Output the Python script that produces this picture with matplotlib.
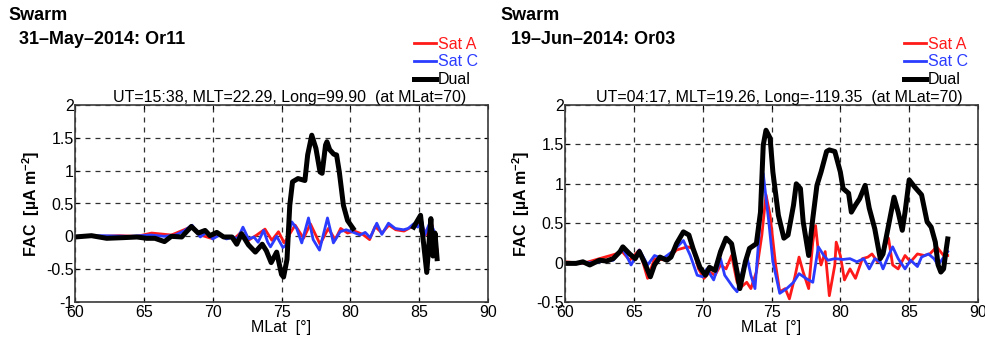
import matplotlib
matplotlib.use('Agg')
import matplotlib.pyplot as plt
import numpy as np

plt.rcParams['font.family'] = ['Liberation Sans', 'DejaVu Sans']
plt.rcParams['mathtext.fontset'] = 'custom'
plt.rcParams['mathtext.default'] = 'regular'
plt.rcParams['axes.unicode_minus'] = False

# ---- data ----
# 31-May-2014, Or11
mlat_a1 = [60, 62, 63.2, 64.5, 65.57, 67.0, 68.5, 69.1, 69.9, 70.4, 70.8, 71.6, 72.0, 72.6, 73.2,
           73.8, 74.3, 74.78, 75.2, 75.99, 76.6, 77.1, 77.8, 78.4, 78.9, 79.3, 79.8, 80.3, 80.9,
           81.4, 81.8, 82.3, 82.8, 83.3, 83.9, 84.5, 84.9, 85.2, 85.6, 85.9, 86.3]
fac_a1 = [0.0, 0.0, 0.01, 0.0, 0.05, 0.02, 0.15, 0.02, -0.03, 0.02, 0.0, -0.03, 0.05, -0.06, 0.02,
          0.11, -0.06, 0.07, -0.1, 0.17, -0.03, 0.19, -0.12, 0.12, -0.05, 0.12, 0.05, 0.08, 0.03,
          -0.05, 0.15, 0.05, 0.17, 0.1, 0.08, 0.15, 0.23, 0.15, 0.02, 0.2, -0.2]

mlat_c1 = [60, 62, 64, 65.5, 66.5, 67.3, 67.9, 68.5, 69.1, 69.6, 70.0, 70.5, 71.0, 71.5, 71.8,
           72.2, 72.6, 73.0, 73.3, 73.7, 74.0, 74.2, 74.65, 75.1, 75.3, 75.75, 76.1, 76.47,
           76.96, 77.3, 77.76, 78.34, 78.77, 79.26, 79.7, 80.23, 80.7, 81.08, 81.44, 81.92,
           82.29, 82.77, 83.26, 83.86, 84.2, 84.6, 84.9, 85.2, 85.4, 85.8, 86.1, 86.3]
fac_c1 = [0.0, 0.01, 0.0, 0.02, 0.0, 0.02, 0.08, 0.17, -0.01, 0.07, -0.04, 0.02, -0.04, -0.01, -0.04,
          0.14, -0.04, -0.01, -0.09, 0.09, -0.09, -0.16, 0.0, -0.17, -0.14, 0.22, 0.12, -0.1,
          0.28, -0.05, -0.21, 0.28, -0.1, 0.07, 0.1, 0.06, 0.02, 0.06, -0.02, 0.2,
          0.03, 0.2, 0.12, 0.1, 0.12, 0.19, 0.14, 0.22, 0.02, 0.22, 0.07, -0.24]

mlat_d1 = [60, 61.2, 62.3, 63.5, 64.5, 65.2, 65.8, 66.5, 67.0, 67.75, 68.45, 68.95, 69.45, 69.8,
           70.3, 70.8, 71.4, 71.75, 72.1, 72.6, 73.1, 73.6, 73.9, 74.25, 74.65, 75.0, 75.15,
           75.4, 75.6, 75.8, 76.2, 76.7, 76.9, 77.2, 77.5, 77.8, 77.95, 78.2, 78.3, 78.5, 78.8,
           79.0, 79.2, 79.5, 79.8, 80.2, np.nan,
           84.6, 85.1, 85.55, 85.85, 86.0, 86.15, 86.3]
fac_d1 = [-0.01, 0.01, -0.03, -0.02, -0.01, -0.03, -0.03, -0.08, 0.0, -0.01, 0.15, 0.05, 0.09, 0.01,
          0.06, -0.01, -0.01, -0.12, 0.04, -0.13, -0.24, -0.12, -0.22, -0.40, -0.24, -0.58, -0.62,
          -0.35, 0.47, 0.83, 0.88, 0.85, 1.24, 1.54, 1.34, 0.98, 0.96, 1.39, 1.44, 1.32, 1.25,
          1.24, 0.98, 0.47, 0.24, 0.12, np.nan,
          0.14, 0.32, -0.55, 0.27, -0.3, 0.05, -0.34]

# 19-Jun-2014, Or03
mlat_a2 = [60, 61.3, 63.7, 64.1, 64.7, 65.4, 66.0, 66.5, 67.4, 68.1, 68.9, 69.3, 69.7, 70.1, 70.5,
           70.9, 71.3, 71.7, 72.1, 72.5, 72.8, 73.2, 73.5, 73.9, 74.3, 74.6, 74.9, 75.3, 75.6,
           76.0, 76.3, 76.7, 77.0, 77.3, 77.7, 78.0, 78.2, 78.4, 78.6, 78.9, 79.2, 79.6, 79.7,
           80.0, 80.3, 80.7, 81.1, 81.6, 82.0, 82.3, 82.7, 83.1, 83.5, 83.8, 84.2, 84.7, 85.1,
           85.6, 86.1, 86.5, 87.0, 87.5, 87.8]
fac_a2 = [0.01, -0.01, 0.11, 0.15, 0.03, 0.16, -0.20, 0.05, 0.03, 0.16, 0.20, 0.18, -0.08, -0.20, -0.12,
          -0.16, -0.03, -0.08, 0.09, -0.25, -0.31, -0.25, -0.33, -0.12, 0.35, 0.86, 0.60, -0.03, -0.37,
          -0.33, -0.46, -0.18, 0.07, -0.12, -0.33, 0.26, 0.47, 0.14, -0.03, 0.14, -0.42, -0.03, 0.26,
          0.09, -0.22, -0.08, -0.20, 0.05, 0.07, 0.11, 0.01, 0.14, 0.31, -0.03, -0.08, 0.09, 0.01,
          0.11, 0.09, 0.11, 0.20, 0.09, 0.09]

mlat_c2 = [60, 62, 63.5, 64.0, 64.2, 64.8, 65.4, 66.0, 66.5, 67.1, 67.8, 68.6, 69.1, 69.6, 70.0,
           70.3, 70.8, 71.3, 71.6, 72.2, 72.5, 72.8, 73.2, 73.5, 73.8, 74.1, 74.4, 74.8, 75.1,
           75.6, 76.1, 76.6, 77.0, 77.5, 78.0, 78.4, 78.8, 79.1, 79.6, 80.2, 80.7, 81.2, 81.7,
           82.1, 82.5, 82.9, 83.1, 83.5, 83.8, 84.2, 84.7, 85.1, 85.6, 85.9, 86.4, 86.8, 87.1,
           87.6, 87.8]
fac_c2 = [-0.01, 0.0, 0.03, 0.14, 0.18, -0.03, 0.16, -0.03, 0.09, 0.05, 0.14, 0.28, 0.09, -0.16, -0.18,
          -0.08, -0.22, 0.05, -0.16, -0.31, -0.37, -0.16, 0.09, -0.16, -0.33, 0.35, 1.13, 0.52, 0.01,
          -0.39, -0.33, -0.25, -0.14, -0.20, -0.25, 0.20, 0.09, 0.03, 0.05, 0.04, 0.05, 0.01, 0.05,
          -0.08, 0.05, 0.01, -0.08, 0.09, 0.20, 0.05, -0.08, 0.03, -0.05, 0.07, 0.11, 0.05, -0.03,
          0.09, 0.14]

mlat_d2 = [60, 60.8, 61.3, 61.8, 62.5, 63.0, 63.5, 64.0, 64.2, 64.7, 65.1, 65.4, 65.8, 66.2, 66.5,
           66.9, 67.4, 67.7, 68.1, 68.6, 69.0, 69.3, 69.8, 70.2, 70.5, 70.9, 71.3, 71.7, 72.1,
           72.5, 72.7, 73.1, 73.4, 73.9, 74.2, 74.4, 74.6, 74.9, 75.1, 75.5, 75.9, 76.2, 76.6,
           76.8, 77.1, 77.3, 77.7, 78.0, 78.3, 78.6, 79.0, 79.2, 79.6, 80.0, 80.2, 80.6, 80.8,
           81.1, 81.4, 81.8, 82.1, 82.5, 82.9, 83.1, 83.5, 83.9, 84.2, 84.5, 84.7, 85.0, 85.4,
           85.9, 86.3, 86.6, 86.9, 87.1, 87.3, 87.5, 87.7, 87.8]
fac_d2 = [-0.01, -0.01, 0.01, -0.03, 0.03, 0.02, 0.05, 0.14, 0.20, 0.11, 0.05, 0.14, -0.01, -0.18, -0.03,
          0.07, 0.03, 0.07, 0.24, 0.39, 0.35, 0.18, -0.06, -0.16, -0.06, -0.10, 0.14, 0.31, 0.24,
          -0.12, -0.33, 0.01, 0.18, 0.24, 0.64, 1.49, 1.68, 1.58, 1.15, 0.60, 0.31, 0.35, 0.73,
          1.00, 0.94, 0.52, 0.09, 0.56, 0.98, 1.15, 1.41, 1.43, 1.41, 1.15, 0.94, 0.88, 0.64,
          0.73, 0.81, 0.98, 0.69, 0.43, 0.05, 0.11, 0.47, 0.83, 0.64, 0.41, 0.64, 1.05, 0.96,
          0.86, 0.52, 0.45, 0.26, -0.03, -0.12, -0.08, 0.18, 0.30]

dates = ['31\u2013May\u20132014: Or11', '19\u2013Jun\u20132014: Or03']
subtitles = ['UT=15:38, MLT=22.29, Long=99.90  (at MLat=70)',
             'UT=04:17, MLT=19.26, Long=-119.35  (at MLat=70)']
ylims = [(-1, 2), (-0.5, 2)]
series = [
    (mlat_a1, fac_a1, mlat_c1, fac_c1, mlat_d1, fac_d1),
    (mlat_a2, fac_a2, mlat_c2, fac_c2, mlat_d2, fac_d2),
]

red = '#ff1a1a'
blue = '#2b3cff'
grid_col = '#303030'

fig = plt.figure(figsize=(9.85, 3.4), dpi=100)
fig.patch.set_facecolor('white')

lefts = [75 / 985, 565 / 985]
W, H = 413 / 985, 197 / 340
B = 38 / 340

for i in range(2):
    ax = fig.add_axes([lefts[i], B, W, H])
    ma, fa, mc, fc, md, fd = series[i]
    ax.plot(ma, fa, color=red, lw=2.0, label='Sat A', solid_joinstyle='round')
    ax.plot(mc, fc, color=blue, lw=2.0, label='Sat C', solid_joinstyle='round')
    ax.plot(md, fd, color='black', lw=3.6, label='Dual', solid_joinstyle='round')

    ax.set_xlim(60, 90)
    ax.set_ylim(*ylims[i])
    ax.set_xticks(np.arange(60, 91, 5))
    ax.set_yticks(np.arange(ylims[i][0], 2.01, 0.5))
    ax.set_yticklabels(['%g' % v for v in np.arange(ylims[i][0], 2.01, 0.5)])
    ax.grid(True, color=grid_col, linestyle=(0, (4, 4)), linewidth=0.9)
    ax.tick_params(direction='in', length=3, width=0.8, labelsize=11.5, pad=2,
                   top=True, right=True)
    ax.tick_params(axis='y', pad=1)
    for s in ax.spines.values():
        s.set_color('#3a3a3a')
        s.set_linewidth(1.2)

    ax.set_xlabel('MLat  [\u00b0]', fontsize=11.5, labelpad=0)
    ax.set_ylabel('FAC  [\u00b5A m$^{-2}$]', fontsize=11.5, fontweight='bold', labelpad=3)

    ax.text(0.52, 1.04, subtitles[i], transform=ax.transAxes, ha='center', va='center',
            fontsize=11.5)

    leg = ax.legend(loc='lower right', bbox_to_anchor=(0.975, 1.09), frameon=False,
                    fontsize=11.5, handlelength=1.4, handletextpad=0.1, labelspacing=0.18,
                    borderpad=0, borderaxespad=0)
    for txt, col in zip(leg.get_texts(), [red, blue, 'black']):
        txt.set_color(col)

    x0 = [8, 500][i] / 985
    fig.text(x0, 1 - 16 / 340, 'Swarm', fontsize=13, fontweight='bold', ha='left', va='center')
    fig.text(x0 + 11 / 985, 1 - 39 / 340, dates[i], fontsize=13, fontweight='bold',
             ha='left', va='center')

fig.savefig('out.png', dpi=100, facecolor='white')
plt.close(fig)
